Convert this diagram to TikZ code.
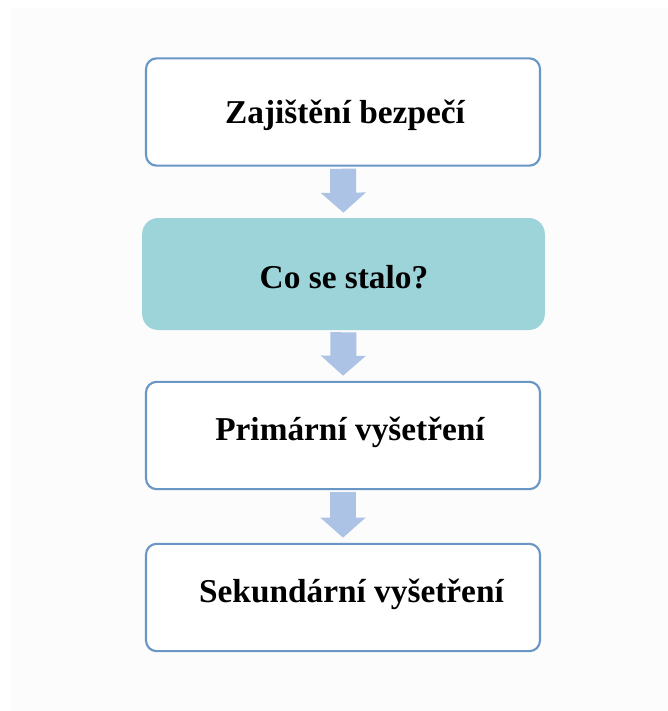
\documentclass[tikz,border=0pt]{standalone}
\usepackage{fontspec}
\setmainfont{Liberation Serif}
\usepackage{xcolor}
\usetikzlibrary{arrows.meta}

\definecolor{boxline}{RGB}{106,150,198}
\definecolor{boxfill}{RGB}{157,212,217}
\definecolor{arrowfill}{RGB}{172,195,229}
\definecolor{pagebg}{RGB}{252,252,252}

\begin{document}
\begin{tikzpicture}[x=0.75pt,y=0.75pt,yscale=-1,xscale=1,
  stepbox/.style={draw=boxline,line width=1.6pt,rounded corners=8pt,fill=white,
    minimum width=295.5pt,minimum height=80.5pt,inner sep=0pt},
  activebox/.style={fill=boxfill,rounded corners=12pt,
    minimum width=302pt,minimum height=84pt,inner sep=0pt},
  steptext/.style={inner sep=0pt,text height=16.5pt,text depth=0pt,
    font=\fontsize{25}{30}\selectfont\bfseries},
  flowarrow/.style={draw=arrowfill,line width=19.5pt,
    -{Triangle[width=33pt,length=15pt]},shorten <=1.5pt,shorten >=3.8pt}]
%set diagram to the full 668 x 711 frame
\useasboundingbox (0,0) rectangle (668,711);
\fill [pagebg] (10,8) rectangle (668,711);

%Shape: Rounded Rect [id:box1]
\node [stepbox] (box1) at (343,112) {};
%Shape: Rounded Rect [id:box2]
\node [activebox] (box2) at (343.5,274) {};
%Shape: Rounded Rect [id:box3]
\node [stepbox] (box3) at (343,435.5) {};
%Shape: Rounded Rect [id:box4]
\node [stepbox] (box4) at (343,597.5) {};

%Block Arrows
\draw [flowarrow] (box1.south) -- (box2.north);
\draw [flowarrow] (box2.south) -- (box3.north);
\draw [flowarrow] (box3.south) -- (box4.north);

% Text Node
\node [steptext] (t1) at (345,112.5) {Zajištění bezpečí};
% Text Node
\node [steptext] (t2) at (344,277.5) {Co se stalo?};
% Text Node
\node [steptext] (t3) at (350,429.5) {Primární vyšetření};
% Text Node
\node [steptext] (t4) at (351.5,591.5) {Sekundární vyšetření};

\end{tikzpicture}
\end{document}
